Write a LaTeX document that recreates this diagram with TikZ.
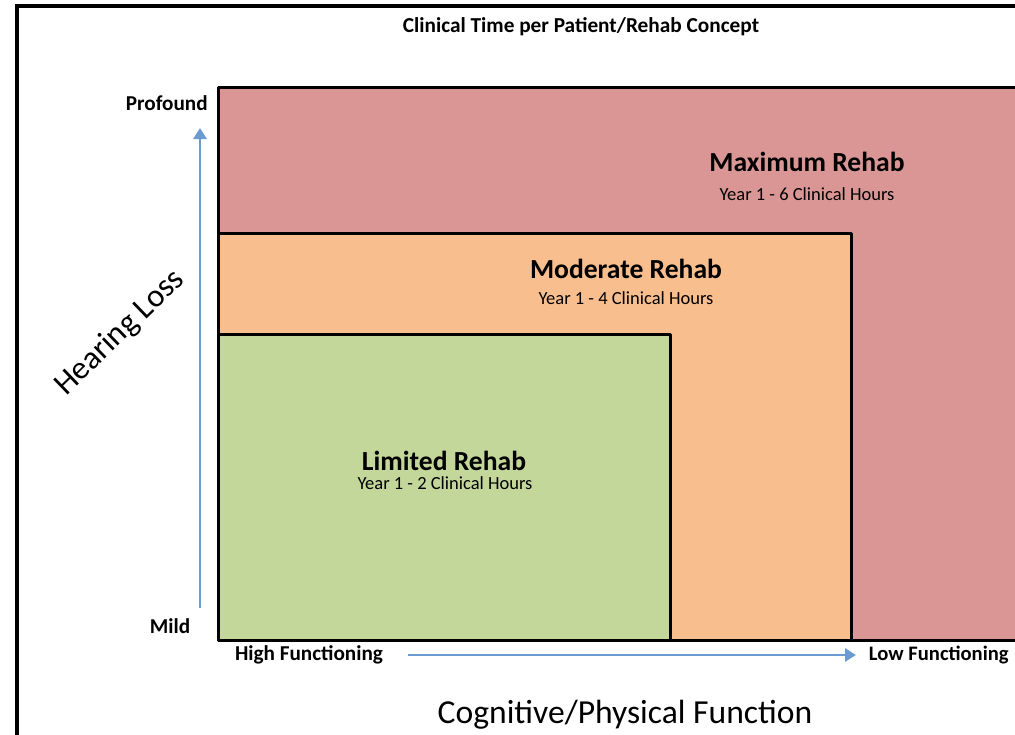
\documentclass[tikz,border=0pt]{standalone}
\usepackage{fontspec}
\setmainfont{Carlito}
\usetikzlibrary{arrows.meta,positioning}
\definecolor{maxred}{HTML}{DA9694}
\definecolor{modorange}{HTML}{F9BE8E}
\definecolor{limgreen}{HTML}{C4D79B}
\definecolor{axblue}{HTML}{6C9BD2}

\begin{document}
\begin{tikzpicture}[x=1pt,y=-1pt, line cap=round, line join=round,
                    every node/.style={outer sep=0pt}]

  \tikzset{
    zone/.style={draw=black, line width=3pt, inner sep=0pt, anchor=south west},
    titletxt/.style={font=\fontsize{21.3}{25}\selectfont\bfseries},
    headtxt/.style={font=\fontsize{27.6}{32}\selectfont\bfseries},
    subtxt/.style={font=\fontsize{18.5}{22}\selectfont},
    axtxt/.style={font=\fontsize{21.2}{25}\selectfont\bfseries},
    bigtxt/.style={font=\fontsize{33.6}{39}\selectfont},
    axarrow/.style={draw=axblue, line width=2.8pt, line cap=butt, -{Triangle[length=11pt,width=13pt]}}
  }

  \useasboundingbox[fill=white] (0,0) rectangle (1015,734);

  % outer frame
  \draw[line width=4pt, line cap=butt, line join=miter] (17,6) rectangle (1060,780);
  \node[titletxt] (title) at (581,27) {Clinical Time per Patient/Rehab Concept};

  % Rehab zones
  \node[zone, fill=maxred, minimum width=840pt, minimum height=553pt] (maxz) at (218,640) {};
  \node[zone, fill=modorange, minimum width=633pt, minimum height=407pt] (modz) at (218,640) {};
  \node[zone, fill=limgreen, minimum width=452pt, minimum height=306pt] (limz) at (218,640) {};

  \node[headtxt] (maxt) at (807,162) {Maximum Rehab};
  \node[subtxt] (maxh) at (807,194) {Year 1 - 6 Clinical Hours};
  \node[headtxt] (modt) at (626,269) {Moderate Rehab};
  \node[subtxt] (modh) at (626,298) {Year 1 - 4 Clinical Hours};
  \node[headtxt] (limt) at (444,461) {Limited Rehab};
  \node[subtxt] (limh) at (445,483) {Year 1 - 2 Clinical Hours};

  % Axes
  \node[axtxt, anchor=east] (prof) at (211,103) {Profound};
  \node[axtxt] (mild) at (170,626) {Mild};
  \coordinate (vtail) at (200,608);
  \coordinate (vhead) at (200,128);
  \draw[axarrow] (vtail) -- (vhead);
  \node[bigtxt, rotate=44, font=\fontsize{32.4}{38}\selectfont] (hloss) at (120,333) {Hearing Loss};

  \node[axtxt] (highf) at (309,655) {High Functioning};
  \node[axtxt, anchor=east, font=\fontsize{20.6}{25}\selectfont\bfseries] (lowf) at (1012,655) {Low Functioning};
  \coordinate (htip) at (856,655);
  \draw[axarrow] ([xshift=22pt]highf.east) -- (htip);
  \node[bigtxt] (cogf) at (625,715) {Cognitive/Physical Function};
\end{tikzpicture}
\end{document}
